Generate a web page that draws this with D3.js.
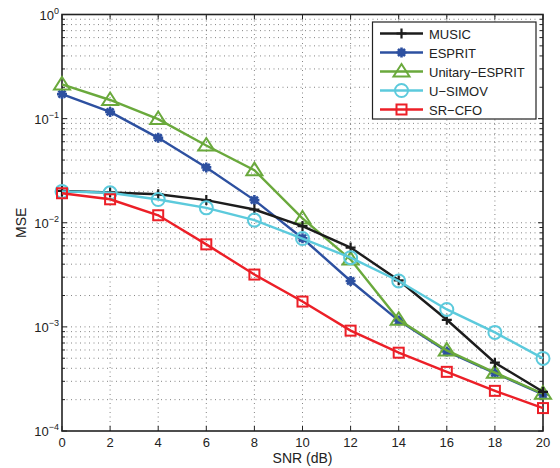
<!DOCTYPE html>
<html>
<head>
<meta charset="utf-8">
<script src="https://cdn.jsdelivr.net/npm/d3@7"></script>
<style>
body { margin: 0; background: #fff; }
text { font-family: "Liberation Sans", Arial, sans-serif; fill: #222; }
</style>
</head>
<body>
<div id="chart"></div>
<script>
// data
var snr = [0, 2, 4, 6, 8, 10, 12, 14, 16, 18, 20];
var music   = [0.0202, 0.0195, 0.0188, 0.0165, 0.0134, 0.0093, 0.00578, 0.0028, 0.00117, 0.000453, 0.000238];
var esprit  = [0.172, 0.116, 0.0654, 0.034, 0.0165, 0.0071, 0.00276, 0.00115, 0.00058, 0.00036, 0.000225];
var uesprit = [0.213, 0.151, 0.099, 0.0552, 0.032, 0.011, 0.00443, 0.00117, 0.000594, 0.000363, 0.000228];
var usimov  = [0.0200, 0.0194, 0.0167, 0.0139, 0.0106, 0.00705, 0.00462, 0.00276, 0.00147, 0.000885, 0.000498];
var srcfo   = [0.0192, 0.0168, 0.0118, 0.0062, 0.00318, 0.00175, 0.00092, 0.000565, 0.00037, 0.000243, 0.000166];
var seriesNames = ["MUSIC", "ESPRIT", "Unitary\u2212ESPRIT", "U\u2212SIMOV", "SR\u2212CFO"];
var xTicks = [0, 2, 4, 6, 8, 10, 12, 14, 16, 18, 20];
var yExps = [0, -1, -2, -3, -4];

var width = 560, height = 468;
var margin = {left: 62, right: 17, top: 14.5, bottom: 37};

var series = [
	{name: seriesNames[0], values: music,   color: "#1c1c1c", marker: "plus"},
	{name: seriesNames[1], values: esprit,  color: "#2d50a0", marker: "star"},
	{name: seriesNames[2], values: uesprit, color: "#6aa93c", marker: "triangle"},
	{name: seriesNames[3], values: usimov,  color: "#5ccadc", marker: "circle"},
	{name: seriesNames[4], values: srcfo,   color: "#ec1f27", marker: "square"}
];

var svg = d3.select("#chart").append("svg")
	.attr("width", width).attr("height", height);

var x = d3.scaleLinear().domain([0, 20]).range([margin.left, width - margin.right]);
var y = d3.scaleLog().domain([1e-4, 1]).range([height - margin.bottom, margin.top]);

var x0 = x.range()[0], x1 = x.range()[1];
var y0 = y.range()[0], y1 = y.range()[1];

// minor log values for grid
var minorVals = [];
for (var e = -4; e < 0; e++) {
	for (var m = 1; m <= 9; m++) minorVals.push(m * Math.pow(10, e));
}
minorVals.push(1);

var grid = svg.append("g")
	.attr("stroke", "#666")
	.attr("stroke-width", 0.8)
	.attr("stroke-dasharray", "1,3.5");

grid.selectAll(".hg").data(minorVals.filter(function(v) { return v > 1e-4 && v < 1; }))
	.enter().append("line")
	.attr("x1", x0).attr("x2", x1)
	.attr("y1", function(d) { return y(d); }).attr("y2", function(d) { return y(d); });

grid.selectAll(".vg").data(xTicks.slice(1, -1))
	.enter().append("line")
	.attr("y1", y0).attr("y2", y1)
	.attr("x1", function(d) { return x(d); }).attr("x2", function(d) { return x(d); });

// tick marks inside the box
var ticks = svg.append("g").attr("stroke", "#222").attr("stroke-width", 1);
xTicks.forEach(function(t) {
	ticks.append("line").attr("x1", x(t)).attr("x2", x(t)).attr("y1", y0).attr("y2", y0 - 5);
	ticks.append("line").attr("x1", x(t)).attr("x2", x(t)).attr("y1", y1).attr("y2", y1 + 5);
});
minorVals.forEach(function(v) {
	var major = Math.abs(Math.log10(v) - Math.round(Math.log10(v))) < 1e-9;
	var len = major ? 5 : 3;
	ticks.append("line").attr("x1", x0).attr("x2", x0 + len).attr("y1", y(v)).attr("y2", y(v));
	ticks.append("line").attr("x1", x1).attr("x2", x1 - len).attr("y1", y(v)).attr("y2", y(v));
});

// axes box
svg.append("rect")
	.attr("x", x0).attr("y", y1)
	.attr("width", x1 - x0).attr("height", y0 - y1)
	.attr("fill", "none").attr("stroke", "#222").attr("stroke-width", 1.6);

// tick labels
svg.selectAll(".xl").data(xTicks).enter().append("text")
	.attr("x", function(d) { return x(d); })
	.attr("y", y0 + 16)
	.attr("text-anchor", "middle")
	.attr("font-size", 13)
	.text(function(d) { return d; });

yExps.forEach(function(e) {
	var t = svg.append("text")
		.attr("x", x0 - 3).attr("y", y(Math.pow(10, e)) + 5)
		.attr("text-anchor", "end")
		.attr("font-size", 13);
	t.append("tspan").text("10");
	t.append("tspan").attr("dy", -6).attr("font-size", 9).text(e === 0 ? "0" : "\u2212" + (-e));
});

svg.append("text")
	.attr("x", (x0 + x1) / 2).attr("y", height - 5)
	.attr("text-anchor", "middle").attr("font-size", 14)
	.text("SNR (dB)");

svg.append("text")
	.attr("transform", "translate(26," + ((y0 + y1) / 2) + ") rotate(-90)")
	.attr("text-anchor", "middle").attr("font-size", 14)
	.text("MSE");

// marker drawing
function drawMarker(g, type, color, cx, cy) {
	if (type === "plus") {
		g.append("path").attr("d", "M" + (cx - 5) + "," + cy + "H" + (cx + 5) + "M" + cx + "," + (cy - 5) + "V" + (cy + 5))
			.attr("stroke", color).attr("stroke-width", 2.2).attr("fill", "none");
	} else if (type === "star") {
		var p = "";
		for (var k = 0; k < 4; k++) {
			var a = k * Math.PI / 4;
			p += "M" + (cx - 5 * Math.cos(a)) + "," + (cy - 5 * Math.sin(a)) + "L" + (cx + 5 * Math.cos(a)) + "," + (cy + 5 * Math.sin(a));
		}
		g.append("path").attr("d", p).attr("stroke", color).attr("stroke-width", 2.6).attr("fill", "none");
		g.append("circle").attr("cx", cx).attr("cy", cy).attr("r", 3.2).attr("fill", color);
	} else if (type === "triangle") {
		g.append("path").attr("d", "M" + cx + "," + (cy - 7.5) + "L" + (cx + 8) + "," + (cy + 5) + "L" + (cx - 8) + "," + (cy + 5) + "Z")
			.attr("stroke", color).attr("stroke-width", 2).attr("fill", "none");
	} else if (type === "circle") {
		g.append("circle").attr("cx", cx).attr("cy", cy).attr("r", 6.5)
			.attr("stroke", color).attr("stroke-width", 2).attr("fill", "none");
	} else if (type === "square") {
		g.append("rect").attr("x", cx - 5).attr("y", cy - 5).attr("width", 10).attr("height", 10)
			.attr("stroke", color).attr("stroke-width", 2).attr("fill", "none");
	}
}

var line = d3.line()
	.x(function(d, i) { return x(snr[i]); })
	.y(function(d) { return y(d); });

// draw order so MUSIC and U-SIMOV sit on top like the original
var drawOrder = [1, 2, 0, 3, 4];
drawOrder.forEach(function(si) {
	var s = series[si];
	var g = svg.append("g");
	g.append("path").datum(s.values)
		.attr("d", line)
		.attr("fill", "none").attr("stroke", s.color).attr("stroke-width", 2.4);
	s.values.forEach(function(v, i) {
		drawMarker(g, s.marker, s.color, x(snr[i]), y(v));
	});
});

// legend
var lg = svg.append("g");
lg.append("rect")
	.attr("x", 372.5).attr("y", 22)
	.attr("width", 163.5).attr("height", 97)
	.attr("fill", "#fff").attr("stroke", "#222").attr("stroke-width", 1.2);
series.forEach(function(s, i) {
	var ly = 33.5 + i * 19;
	lg.append("line").attr("x1", 380).attr("x2", 423).attr("y1", ly).attr("y2", ly)
		.attr("stroke", s.color).attr("stroke-width", 2.4);
	drawMarker(lg, s.marker, s.color, 401.5, ly);
	lg.append("text").attr("x", 429).attr("y", ly + 5)
		.attr("font-size", 13).text(s.name);
});
</script>
</body>
</html>
